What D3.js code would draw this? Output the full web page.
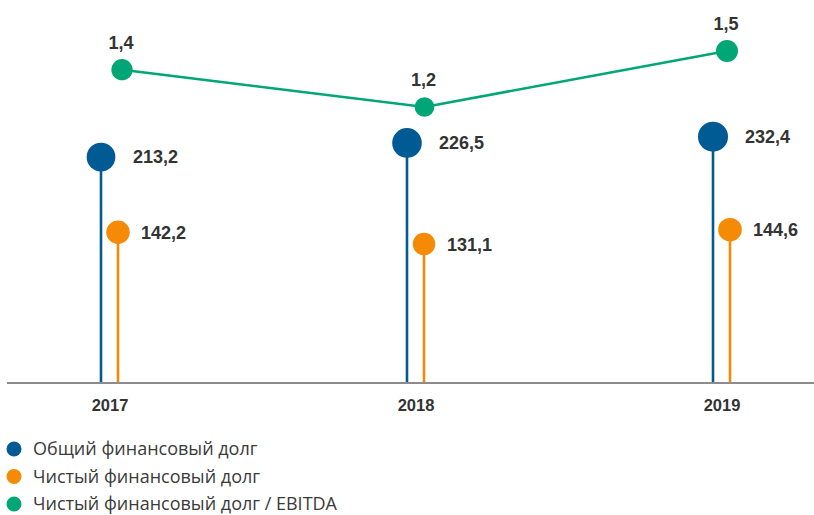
<!DOCTYPE html>
<html>
<head>
<meta charset="utf-8">
<script src="https://cdn.jsdelivr.net/npm/d3@7"></script>
<style>
  body { margin: 0; background: #fff; }
  svg text { font-family: "Liberation Sans", Arial, sans-serif; fill: #333; }
  svg text.leg { font-family: "Open Sans", "Noto Sans", sans-serif; fill: #3a3a3a; }
</style>
</head>
<body>
<div id="container"></div>
<script>
/* CONSTANTS AND GLOBALS */
const width = 814;
const height = 515;
const baseY = 383;

/* DATA */
const years = ["2017", "2018", "2019"];
const grossDebt = [213.2, 226.5, 232.4];   // Общий финансовый долг
const netDebt = [142.2, 131.1, 144.6];     // Чистый финансовый долг
const netDebtEbitda = [1.4, 1.2, 1.5];     // Чистый финансовый долг / EBITDA
const seriesNames = ["Общий финансовый долг", "Чистый финансовый долг", "Чистый финансовый долг / EBITDA"];
const colors = ["#005b94", "#f58a07", "#00a676"];

const fmt = v => String(v).replace(".", ",");

/* SCALES */
// band centres for the years
const xScale = d3.scalePoint()
  .domain(years)
  .range([110, 722]);

// ratio line sits on its own x positions
const xRatio = d3.scalePoint()
  .domain(years)
  .range([122, 727]);

const yScale = d3.scaleLinear()
  .domain([0, 300])
  .range([baseY, baseY - 318]);

const yRatio = d3.scaleLinear()
  .domain([1.2, 1.5])
  .range([107, 51]);

const rDebt = d3.scaleSqrt()
  .domain([0, 232.4])
  .range([0, 15]);

const rRatio = d3.scaleSqrt()
  .domain([0, 1.5])
  .range([0, 11]);

/* HTML ELEMENTS */
const svg = d3.select("#container")
  .append("svg")
  .attr("width", width)
  .attr("height", height);

// axis line
svg.append("line")
  .attr("x1", 7).attr("x2", width)
  .attr("y1", baseY).attr("y2", baseY)
  .attr("stroke", "#8c8c8c")
  .attr("stroke-width", 2);

// year labels
svg.selectAll("text.year")
  .data(years)
  .join("text")
  .attr("class", "year")
  .attr("x", d => xScale(d))
  .attr("y", 411)
  .attr("text-anchor", "middle")
  .attr("font-size", 16.5)
  .attr("font-weight", 700)
  .text(d => d);

// lollipops
const lolli = [
  { values: grossDebt, dx: -9, color: colors[0], labelDx: 32 },
  { values: netDebt, dx: 8, color: colors[1], labelDx: 23 }
];

lolli.forEach(s => {
  const data = years.map((y, i) => ({ year: y, value: s.values[i] }));
  const g = svg.append("g");
  g.selectAll("line")
    .data(data)
    .join("line")
    .attr("x1", d => xScale(d.year) + s.dx)
    .attr("x2", d => xScale(d.year) + s.dx)
    .attr("y1", baseY - 1)
    .attr("y2", d => yScale(d.value))
    .attr("stroke", s.color)
    .attr("stroke-width", 2.6);
  g.selectAll("circle")
    .data(data)
    .join("circle")
    .attr("cx", d => xScale(d.year) + s.dx)
    .attr("cy", d => yScale(d.value))
    .attr("r", d => rDebt(d.value))
    .attr("fill", s.color);
  g.selectAll("text")
    .data(data)
    .join("text")
    .attr("x", d => xScale(d.year) + s.dx + s.labelDx)
    .attr("y", d => yScale(d.value))
    .attr("dy", "0.36em")
    .attr("font-size", 18)
    .attr("font-weight", 700)
    .text(d => fmt(d.value));
});

// ratio line
const ratioData = years.map((y, i) => ({ year: y, value: netDebtEbitda[i] }));
const line = d3.line()
  .x(d => xRatio(d.year))
  .y(d => yRatio(d.value));

svg.append("path")
  .datum(ratioData)
  .attr("d", line)
  .attr("fill", "none")
  .attr("stroke", colors[2])
  .attr("stroke-width", 2.6);

svg.selectAll("circle.ratio")
  .data(ratioData)
  .join("circle")
  .attr("class", "ratio")
  .attr("cx", d => xRatio(d.year))
  .attr("cy", d => yRatio(d.value))
  .attr("r", d => rRatio(d.value))
  .attr("fill", colors[2]);

svg.selectAll("text.ratio")
  .data(ratioData)
  .join("text")
  .attr("class", "ratio")
  .attr("x", d => xRatio(d.year) - 1)
  .attr("y", d => yRatio(d.value) - 21)
  .attr("text-anchor", "middle")
  .attr("font-size", 18)
  .attr("font-weight", 700)
  .text(d => fmt(d.value));

// legend
const legend = svg.selectAll("g.legend")
  .data(seriesNames)
  .join("g")
  .attr("class", "legend")
  .attr("transform", (d, i) => `translate(14,${449 + i * 27.5})`);

legend.append("circle")
  .attr("r", 7.5)
  .attr("fill", (d, i) => colors[i]);

legend.append("text")
  .attr("class", "leg")
  .attr("x", 19)
  .attr("dy", "0.35em")
  .attr("font-size", 18)
  .text(d => d);
</script>
</body>
</html>
